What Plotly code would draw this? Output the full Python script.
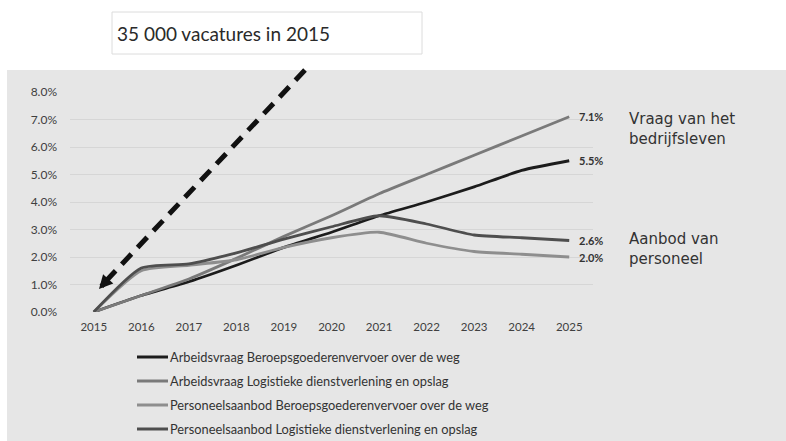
import plotly.graph_objects as go

years = [2015, 2016, 2017, 2018, 2019, 2020, 2021, 2022, 2023, 2024, 2025]

series_names = [
    "Arbeidsvraag Beroepsgoederenvervoer over de weg",
    "Arbeidsvraag Logistieke dienstverlening en opslag",
    "Personeelsaanbod Beroepsgoederenvervoer over de weg",
    "Personeelsaanbod Logistieke dienstverlening en opslag",
]
vraag_beroeps = [0.0, 0.6, 1.1, 1.7, 2.35, 2.9, 3.5, 4.0, 4.55, 5.15, 5.5]
vraag_logistiek = [0.0, 0.6, 1.2, 1.95, 2.75, 3.5, 4.3, 5.0, 5.7, 6.4, 7.1]
aanbod_beroeps = [0.0, 1.5, 1.7, 1.9, 2.35, 2.7, 2.9, 2.5, 2.2, 2.1, 2.0]
aanbod_logistiek = [0.0, 1.6, 1.75, 2.15, 2.65, 3.1, 3.5, 3.2, 2.8, 2.7, 2.6]
series_values = [vraag_beroeps, vraag_logistiek, aanbod_beroeps, aanbod_logistiek]
series_colors = ["#1c1c1c", "#7a7a7a", "#8e8e8e", "#4e4e4e"]

title_text = "35 000 vacatures in 2015"
group_labels = ["Vraag van het<br>bedrijfsleven", "Aanbod van<br>personeel"]

W, H = 786, 441
L, R, T, B = 70, 593, 92, 312  # plot area in pixels


def px(x):
    return (x - L) / (R - L)


def py(y):
    return (B - y) / (B - T)


fig = go.Figure()
for i in range(4):
    fig.add_trace(go.Scatter(
        x=years, y=series_values[i], name=series_names[i], mode="lines",
        line=dict(color=series_colors[i], width=2.8, shape="spline", smoothing=0.6),
        showlegend=False,
    ))

# value labels at the end of lines
for i in [1, 0, 3, 2]:
    v = series_values[i][-1]
    fig.add_annotation(x=years[-1], y=v, text=f"<b>{v:.1f}%</b>", showarrow=False,
                       xanchor="left", xshift=8, font=dict(family="Lato", size=11, color="#333333"))

shapes = [
    # grey panel
    dict(type="rect", xref="paper", yref="paper", x0=px(7), x1=px(790), y0=py(70), y1=py(445),
         fillcolor="#e6e6e6", line=dict(width=0), layer="below"),
    # title box
    dict(type="rect", xref="paper", yref="paper", x0=px(112), x1=px(422), y0=py(54), y1=py(12),
         fillcolor="#ffffff", line=dict(color="#dcdcdc", width=1), layer="below"),
    # dashed arrow shaft
    dict(type="line", xref="paper", yref="paper", x0=px(305), y0=py(70), x1=px(106), y1=py(281),
         line=dict(color="#111111", width=5, dash="14px,9px")),
]

# legend (drawn manually so that rows keep the reference spacing)
legend_top, legend_step = 357, 24
for i in range(4):
    yy = legend_top + i * legend_step
    shapes.append(dict(type="line", xref="paper", yref="paper", x0=px(137), x1=px(168),
                       y0=py(yy), y1=py(yy), line=dict(color=series_colors[i], width=3)))
    fig.add_annotation(xref="paper", yref="paper", x=px(168), y=py(yy), text=series_names[i],
                       showarrow=False, xanchor="left", yanchor="middle",
                       font=dict(family="Lato", size=12.8, color="#333333"))
fig.update_layout(shapes=shapes)

fig.add_annotation(xref="paper", yref="paper", x=px(99), y=py(289), text="", showarrow=True,
                   ax=9, ay=-10, arrowhead=2, arrowsize=0.55, arrowwidth=5, arrowcolor="#111111",
                   standoff=0)

fig.add_annotation(xref="paper", yref="paper", x=px(115), y=py(33), text=title_text, showarrow=False,
                   xanchor="left", yanchor="middle",
                   font=dict(family="Lato", size=19, color="#2a2a2a"))

fig.add_annotation(xref="paper", yref="paper", x=px(627), y=py(128.5), text=group_labels[0],
                   showarrow=False, xanchor="left", yanchor="middle", align="left",
                   font=dict(family="DejaVu Sans", size=15, color="#333333"))
fig.add_annotation(xref="paper", yref="paper", x=px(627), y=py(249.5), text=group_labels[1],
                   showarrow=False, xanchor="left", yanchor="middle", align="left",
                   font=dict(family="DejaVu Sans", size=15, color="#333333"))

fig.update_layout(
    width=W, height=H,
    margin=dict(l=L, r=W - R, t=T, b=H - B, pad=0),
    paper_bgcolor="#ffffff", plot_bgcolor="rgba(0,0,0,0)",
    showlegend=False,
    xaxis=dict(range=[2014.5, 2025.5], dtick=1, tick0=2015, showgrid=False, zeroline=False,
               showline=False, ticks="", tickfont=dict(family="Lato", size=11.5, color="#404040"),
               ticklabelstandoff=6, fixedrange=True),
    yaxis=dict(range=[0, 8], dtick=1, tickformat=".1f", ticksuffix="%", showgrid=True,
               gridcolor="#d6d6d6", gridwidth=1, zeroline=False, showline=False, ticks="",
               tickfont=dict(family="Lato", size=12, color="#404040"), ticklabelstandoff=12,
               fixedrange=True),
)

fig.write_html("out.html", post_script="document.body.style.margin='0';",
               config={"displayModeBar": False})
